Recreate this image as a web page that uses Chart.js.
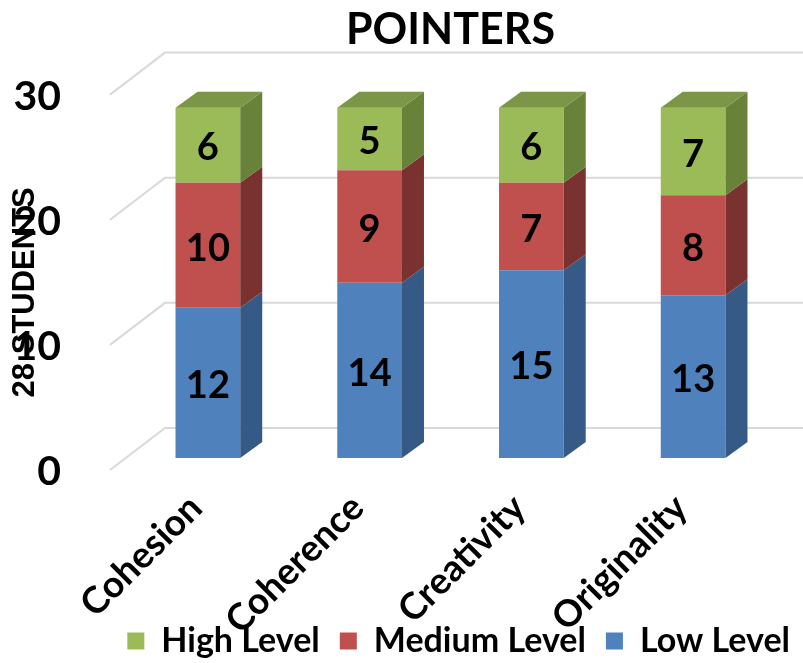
<!DOCTYPE html>
<html lang="en">
<head>
  <meta charset="UTF-8">
  <title>POINTERS</title>
  <script src="https://cdn.jsdelivr.net/npm/chart.js"></script>
  <style>
    body { margin: 0; background: #fff; }
    #wrap { width: 803px; height: 663px; position: relative; }
  </style>
</head>
<body>
<div id="wrap"><canvas id="myChart"></canvas></div>

<script>
  // data
  var categories = ['Cohesion', 'Coherence', 'Creativity', 'Originality'];
  var lowLevel = [12, 14, 15, 13];
  var mediumLevel = [10, 9, 7, 8];
  var highLevel = [6, 5, 6, 7];
  var yTicks = [0, 10, 20, 30];

  var FONT = 'Lato, "Liberation Sans", sans-serif';
  var DEPTH_X = 22, DEPTH_Y = 16; // bar depth
  var sideColors = ['#365A86', '#7A3230', '#68823A'];
  var topColors = ['#4472A8', '#A04442', '#7A9646'];

  // gridlines drawn as a 3d wall + floor, and the bar sides/tops
  var threeD = {
    id: 'threeD',
    afterLayout: function(chart) {
      // let the slanted category labels run into the legend strip
      chart.scales.x.bottom = chart.height;
    },
    beforeDatasetsDraw: function(chart) {
      var ctx = chart.ctx;
      var y = chart.scales.y;
      var x0 = chart.chartArea.left - 17;
      ctx.save();
      ctx.strokeStyle = '#D9D9D9';
      ctx.lineWidth = 2;
      yTicks.forEach(function(v) {
        var py = y.getPixelForValue(v);
        ctx.beginPath();
        ctx.moveTo(x0, py + 12);
        ctx.lineTo(x0 + 55, py - 30);
        ctx.lineTo(chart.width, py - 30);
        ctx.stroke();
      });
      ctx.restore();
    },
    afterDatasetsDraw: function(chart) {
      var ctx = chart.ctx;
      var n = chart.data.datasets.length;
      ctx.save();
      for (var d = 0; d < n; d++) {
        var meta = chart.getDatasetMeta(d);
        meta.data.forEach(function(bar) {
          var left = bar.x - bar.width / 2, right = bar.x + bar.width / 2;
          var top = bar.y, base = bar.base;
          ctx.fillStyle = sideColors[d];
          ctx.beginPath();
          ctx.moveTo(right, top);
          ctx.lineTo(right + DEPTH_X, top - DEPTH_Y);
          ctx.lineTo(right + DEPTH_X, base - DEPTH_Y);
          ctx.lineTo(right, base);
          ctx.closePath();
          ctx.fill();
          if (d === n - 1) {
            ctx.fillStyle = topColors[d];
            ctx.beginPath();
            ctx.moveTo(left, top);
            ctx.lineTo(left + DEPTH_X, top - DEPTH_Y);
            ctx.lineTo(right + DEPTH_X, top - DEPTH_Y);
            ctx.lineTo(right, top);
            ctx.closePath();
            ctx.fill();
          }
        });
      }
      // value labels
      ctx.fillStyle = '#000';
      ctx.font = 'bold 38px ' + FONT;
      ctx.textAlign = 'center';
      ctx.textBaseline = 'middle';
      for (var d2 = 0; d2 < n; d2++) {
        var meta2 = chart.getDatasetMeta(d2);
        meta2.data.forEach(function(bar, i) {
          var c = bar.getCenterPoint();
          ctx.fillText(chart.data.datasets[d2].data[i], c.x, c.y + 3);
        });
      }
      // y axis title
      ctx.font = 'bold 31px "Liberation Sans", sans-serif';
      ctx.translate(25, (chart.chartArea.top + chart.chartArea.bottom) / 2 + 22);
      ctx.rotate(-Math.PI / 2);
      ctx.fillText('28 STUDENTS', 0, 0);
      ctx.restore();
    }
  };

  var ctx = document.getElementById('myChart').getContext('2d');
  var myChart = new Chart(ctx, {
    type: 'bar',
    data: {
      labels: categories,
      datasets: [
        { label: 'Low Level', data: lowLevel, backgroundColor: '#4F81BD' },
        { label: 'Medium Level', data: mediumLevel, backgroundColor: '#C0504D' },
        { label: 'High Level', data: highLevel, backgroundColor: '#9BBB59' }
      ]
    },
    plugins: [threeD],
    options: {
      responsive: true,
      maintainAspectRatio: false,
      animation: false,
      layout: { padding: { left: 0, right: -7, top: 0, bottom: -5 } },
      datasets: { bar: { barPercentage: 0.8, categoryPercentage: 0.5 } },
      plugins: {
        title: {
          display: true,
          text: 'POINTERS',
          color: '#000',
          fullSize: false,
          font: { family: FONT, size: 43, weight: 'bold' },
          padding: { top: 2, bottom: 27 }
        },
        legend: {
          position: 'bottom',
          reverse: true,
          align: 'end',
          labels: {
            color: '#000',
            boxWidth: 17,
            boxHeight: 17,
            padding: 20,
            font: { family: FONT, size: 34, weight: 'bold' }
          }
        },
        tooltip: { enabled: false }
      },
      scales: {
        x: {
          stacked: true,
          grid: { display: false },
          border: { display: false },
          ticks: {
            color: '#000',
            minRotation: 45,
            maxRotation: 45,
            padding: 20,
            labelOffset: -12,
            font: { family: FONT, size: 37, weight: 'bold' }
          },
          afterFit: function(s) { s.height = 146; }
        },
        y: {
          stacked: true,
          min: 0,
          max: 30,
          grid: { display: false },
          border: { display: false },
          afterFit: function(s) { s.width = 127; },
          ticks: {
            stepSize: 10,
            color: '#000',
            padding: 58,
            labelOffset: 14,
            font: { family: FONT, size: 41, weight: 'bold' }
          }
        },
        // empty right-hand spacer so the plot ends where the original does
        y2: {
          position: 'right',
          grid: { display: false },
          border: { display: false },
          ticks: { display: false },
          afterFit: function(s) { s.width = 36; }
        }
      }
    }
  });
</script>
</body>
</html>
